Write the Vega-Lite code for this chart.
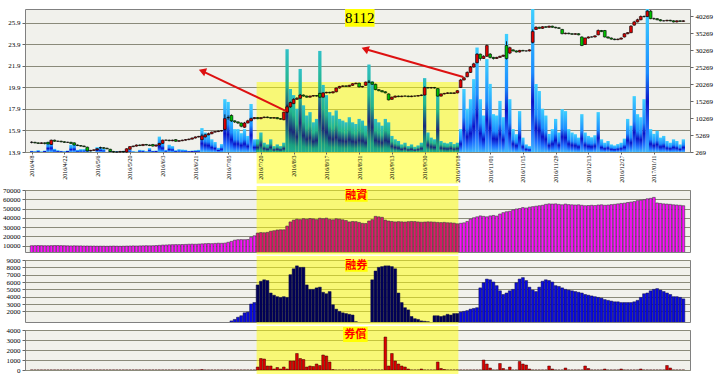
{
"$schema":"https://vega.github.io/schema/vega-lite/v6.json",
"background":"#ffffff",
"padding":{"left":2,"top":8,"right":2,"bottom":1},
"spacing":0,
"config":{
 "view":{"stroke":"#808080","fill":"#f1f1ec"},
 "axis":{"labelFont":"Liberation Serif","labelFontSize":7,"labelColor":"#000000","domainColor":"#666666","tickColor":"#666666","gridColor":"#8a8a7a","labelPadding":2,"tickSize":3,"labelOverlap":false}
},
"datasets":{
"arrows":[{"ax":77.7,"ay":17.71,"bx":52.1,"by":21.43},{"ax":131.8,"ay":20.88,"bx":101.8,"by":23.48}],
"d":[
{"i":0,"o":14.8,"c":14.8,"h":14.9,"l":14.7,"v":600,"m":9800,"s":0,"r":0},
{"i":1,"o":14.8,"c":14.75,"h":14.85,"l":14.7,"v":500,"m":9900,"s":0,"r":0},
{"i":2,"o":14.75,"c":14.7,"h":14.8,"l":14.65,"v":800,"m":10000,"s":0,"r":0},
{"i":3,"o":14.7,"c":14.75,"h":14.8,"l":14.65,"v":450,"m":9900,"s":0,"r":0},
{"i":4,"o":14.75,"c":14.7,"h":14.8,"l":14.6,"v":700,"m":9800,"s":0,"r":0},
{"i":5,"o":14.8,"c":14.65,"h":14.85,"l":14.6,"v":3200,"m":9800,"s":0,"r":0},
{"i":6,"o":14.6,"c":15.0,"h":15.05,"l":14.55,"v":3500,"m":9900,"s":0,"r":0},
{"i":7,"o":15.0,"c":14.9,"h":15.05,"l":14.85,"v":1200,"m":10000,"s":0,"r":0},
{"i":8,"o":14.9,"c":14.9,"h":14.95,"l":14.85,"v":800,"m":10000,"s":0,"r":0},
{"i":9,"o":14.9,"c":14.85,"h":14.95,"l":14.8,"v":600,"m":9900,"s":0,"r":0},
{"i":10,"o":14.85,"c":14.8,"h":14.9,"l":14.75,"v":500,"m":9800,"s":0,"r":0},
{"i":11,"o":14.8,"c":14.8,"h":14.85,"l":14.75,"v":700,"m":9700,"s":0,"r":0},
{"i":12,"o":14.8,"c":14.7,"h":14.85,"l":14.65,"v":2400,"m":9600,"s":0,"r":0},
{"i":13,"o":14.75,"c":14.55,"h":14.8,"l":14.5,"v":2600,"m":9700,"s":0,"r":0},
{"i":14,"o":14.55,"c":14.5,"h":14.6,"l":14.45,"v":900,"m":9600,"s":0,"r":0},
{"i":15,"o":14.5,"c":14.45,"h":14.55,"l":14.4,"v":1100,"m":9600,"s":0,"r":0},
{"i":16,"o":14.45,"c":14.4,"h":14.5,"l":14.35,"v":1100,"m":9500,"s":0,"r":0},
{"i":17,"o":14.35,"c":14.0,"h":14.4,"l":13.95,"v":1500,"m":9500,"s":0,"r":0},
{"i":18,"o":14.0,"c":14.05,"h":14.1,"l":13.95,"v":400,"m":9400,"s":0,"r":0},
{"i":19,"o":14.05,"c":14.1,"h":14.15,"l":14.0,"v":300,"m":9400,"s":0,"r":0},
{"i":20,"o":14.1,"c":14.2,"h":14.25,"l":14.05,"v":1700,"m":9300,"s":0,"r":0},
{"i":21,"o":14.3,"c":14.3,"h":14.4,"l":14.2,"v":1700,"m":9300,"s":0,"r":0},
{"i":22,"o":14.3,"c":14.25,"h":14.35,"l":14.2,"v":1200,"m":9300,"s":0,"r":0},
{"i":23,"o":14.25,"c":14.2,"h":14.3,"l":14.15,"v":300,"m":9200,"s":0,"r":0},
{"i":24,"o":14.15,"c":13.95,"h":14.2,"l":13.9,"v":600,"m":9300,"s":0,"r":0},
{"i":25,"o":13.95,"c":13.9,"h":14.0,"l":13.85,"v":300,"m":9400,"s":0,"r":0},
{"i":26,"o":13.9,"c":13.9,"h":13.95,"l":13.85,"v":500,"m":9300,"s":0,"r":0},
{"i":27,"o":13.9,"c":13.95,"h":14.0,"l":13.85,"v":400,"m":9200,"s":0,"r":0},
{"i":28,"o":13.95,"c":13.9,"h":14.0,"l":13.85,"v":600,"m":9300,"s":0,"r":0},
{"i":29,"o":13.9,"c":14.2,"h":14.25,"l":13.85,"v":1100,"m":9400,"s":0,"r":0},
{"i":30,"o":14.15,"c":14.4,"h":14.45,"l":14.1,"v":1000,"m":9500,"s":0,"r":0},
{"i":31,"o":14.4,"c":14.45,"h":14.5,"l":14.35,"v":500,"m":9600,"s":0,"r":0},
{"i":32,"o":14.45,"c":14.55,"h":14.6,"l":14.4,"v":400,"m":9500,"s":0,"r":0},
{"i":33,"o":14.55,"c":14.5,"h":14.6,"l":14.45,"v":900,"m":9600,"s":0,"r":0},
{"i":34,"o":14.5,"c":14.6,"h":14.65,"l":14.45,"v":800,"m":9700,"s":0,"r":0},
{"i":35,"o":14.6,"c":14.55,"h":14.65,"l":14.5,"v":500,"m":9800,"s":0,"r":0},
{"i":36,"o":14.55,"c":14.5,"h":14.6,"l":14.45,"v":1400,"m":9700,"s":0,"r":0},
{"i":37,"o":14.6,"c":14.45,"h":14.65,"l":14.4,"v":600,"m":9800,"s":0,"r":0},
{"i":38,"o":14.45,"c":14.55,"h":14.6,"l":14.4,"v":700,"m":10000,"s":0,"r":0},
{"i":39,"o":14.55,"c":14.7,"h":14.75,"l":14.5,"v":4800,"m":10200,"s":0,"r":0},
{"i":40,"o":14.7,"c":15.0,"h":15.05,"l":14.65,"v":3500,"m":10500,"s":0,"r":0},
{"i":41,"o":15.0,"c":15.0,"h":15.05,"l":14.95,"v":900,"m":10600,"s":0,"r":0},
{"i":42,"o":15.0,"c":14.95,"h":15.05,"l":14.9,"v":2400,"m":10800,"s":0,"r":0},
{"i":43,"o":14.95,"c":15.0,"h":15.05,"l":14.9,"v":2000,"m":10900,"s":0,"r":0},
{"i":44,"o":15.05,"c":14.9,"h":15.1,"l":14.85,"v":800,"m":11000,"s":0,"r":0},
{"i":45,"o":14.9,"c":14.95,"h":15.0,"l":14.85,"v":1100,"m":11000,"s":0,"r":0},
{"i":46,"o":14.95,"c":15.0,"h":15.05,"l":14.9,"v":1000,"m":11100,"s":0,"r":0},
{"i":47,"o":15.0,"c":15.05,"h":15.1,"l":14.95,"v":900,"m":11200,"s":0,"r":0},
{"i":48,"o":15.05,"c":15.1,"h":15.15,"l":15.0,"v":600,"m":11400,"s":0,"r":0},
{"i":49,"o":15.1,"c":15.2,"h":15.25,"l":15.05,"v":700,"m":11500,"s":0,"r":0},
{"i":50,"o":15.2,"c":15.3,"h":15.35,"l":15.15,"v":800,"m":11400,"s":0,"r":0},
{"i":51,"o":15.3,"c":15.35,"h":15.4,"l":15.25,"v":900,"m":11600,"s":0,"r":0},
{"i":52,"o":15.05,"c":15.4,"h":15.6,"l":15.0,"v":7300,"m":11800,"s":0,"r":50},
{"i":53,"o":15.3,"c":15.5,"h":15.6,"l":15.25,"v":6000,"m":12000,"s":0,"r":0},
{"i":54,"o":15.5,"c":15.6,"h":15.7,"l":15.45,"v":5600,"m":12200,"s":0,"r":0},
{"i":55,"o":15.6,"c":15.75,"h":15.8,"l":15.55,"v":4000,"m":12000,"s":0,"r":0},
{"i":56,"o":15.75,"c":15.8,"h":15.85,"l":15.7,"v":3200,"m":12300,"s":0,"r":0},
{"i":57,"o":15.8,"c":15.85,"h":15.9,"l":15.75,"v":1500,"m":12500,"s":0,"r":0},
{"i":58,"o":15.85,"c":15.9,"h":15.95,"l":15.8,"v":2600,"m":12400,"s":0,"r":0},
{"i":59,"o":16.0,"c":17.0,"h":17.4,"l":15.9,"v":15800,"m":12600,"s":0,"r":0},
{"i":60,"o":17.1,"c":17.1,"h":17.3,"l":16.9,"v":15000,"m":13500,"s":0,"r":0},
{"i":61,"o":17.3,"c":16.8,"h":17.4,"l":16.7,"v":10600,"m":14500,"s":700,"r":0},
{"i":62,"o":16.8,"c":16.7,"h":16.85,"l":16.6,"v":7000,"m":15800,"s":900,"r":0},
{"i":63,"o":16.7,"c":16.6,"h":16.75,"l":16.5,"v":7000,"m":16300,"s":1200,"r":0},
{"i":64,"o":16.6,"c":16.3,"h":16.65,"l":16.2,"v":5800,"m":16400,"s":1400,"r":0},
{"i":65,"o":16.2,"c":16.6,"h":16.7,"l":16.15,"v":7000,"m":16300,"s":1800,"r":0},
{"i":66,"o":16.6,"c":16.8,"h":16.9,"l":16.55,"v":5000,"m":16500,"s":1900,"r":0},
{"i":67,"o":16.8,"c":17.0,"h":17.1,"l":16.75,"v":14400,"m":19000,"s":3000,"r":0},
{"i":68,"o":17.0,"c":17.1,"h":17.15,"l":16.95,"v":4000,"m":20500,"s":3200,"r":0},
{"i":69,"o":17.1,"c":17.0,"h":17.15,"l":16.95,"v":4000,"m":23500,"s":5600,"r":300},
{"i":70,"o":17.0,"c":17.1,"h":17.15,"l":16.95,"v":6000,"m":24000,"s":6100,"r":1150},
{"i":71,"o":17.1,"c":17.15,"h":17.2,"l":17.05,"v":3000,"m":23800,"s":6300,"r":1100},
{"i":72,"o":17.15,"c":17.1,"h":17.2,"l":17.05,"v":2500,"m":24200,"s":6200,"r":400},
{"i":73,"o":17.1,"c":17.05,"h":17.15,"l":17.0,"v":4000,"m":25500,"s":4500,"r":400},
{"i":74,"o":17.05,"c":17.1,"h":17.15,"l":17.0,"v":2000,"m":26000,"s":4200,"r":100},
{"i":75,"o":17.1,"c":17.0,"h":17.15,"l":16.95,"v":2500,"m":26800,"s":4000,"r":250},
{"i":76,"o":17.0,"c":16.95,"h":17.05,"l":16.9,"v":2000,"m":27000,"s":3900,"r":100},
{"i":77,"o":16.9,"c":17.6,"h":17.65,"l":16.85,"v":3000,"m":27000,"s":4000,"r":300},
{"i":78,"o":17.6,"c":18.1,"h":18.3,"l":17.5,"v":30500,"m":31000,"s":3900,"r":100},
{"i":79,"o":18.1,"c":18.5,"h":18.6,"l":18.0,"v":18800,"m":35500,"s":7000,"r":900},
{"i":80,"o":18.4,"c":18.8,"h":18.9,"l":18.35,"v":17000,"m":37500,"s":7800,"r":900},
{"i":81,"o":18.8,"c":18.9,"h":19.0,"l":18.75,"v":13000,"m":38500,"s":8200,"r":1650},
{"i":82,"o":18.9,"c":19.2,"h":19.3,"l":18.85,"v":24700,"m":38000,"s":8000,"r":1150},
{"i":83,"o":19.2,"c":19.1,"h":19.25,"l":19.05,"v":14000,"m":39000,"s":8000,"r":1050},
{"i":84,"o":19.1,"c":19.0,"h":19.15,"l":18.95,"v":11000,"m":38500,"s":5600,"r":300},
{"i":85,"o":19.0,"c":19.1,"h":19.15,"l":18.95,"v":12000,"m":39200,"s":5000,"r":400},
{"i":86,"o":19.1,"c":19.15,"h":19.2,"l":19.05,"v":9000,"m":38800,"s":5000,"r":350},
{"i":87,"o":19.15,"c":19.1,"h":19.2,"l":19.05,"v":10000,"m":38000,"s":5200,"r":600},
{"i":88,"o":19.35,"c":19.0,"h":19.4,"l":18.95,"v":30000,"m":39500,"s":5300,"r":450},
{"i":89,"o":19.0,"c":19.4,"h":19.45,"l":18.95,"v":20000,"m":39000,"s":4600,"r":1500},
{"i":90,"o":19.4,"c":19.45,"h":19.5,"l":19.35,"v":17000,"m":39600,"s":4400,"r":1400},
{"i":91,"o":19.45,"c":19.4,"h":19.5,"l":19.35,"v":12000,"m":38200,"s":4700,"r":800},
{"i":92,"o":19.4,"c":19.5,"h":19.55,"l":19.35,"v":11000,"m":37800,"s":2900,"r":50},
{"i":93,"o":19.5,"c":19.85,"h":19.9,"l":19.45,"v":12500,"m":38900,"s":2300,"r":0},
{"i":94,"o":19.85,"c":20.0,"h":20.05,"l":19.8,"v":10000,"m":38500,"s":2000,"r":0},
{"i":95,"o":20.0,"c":20.05,"h":20.1,"l":19.95,"v":9500,"m":37800,"s":1800,"r":0},
{"i":96,"o":20.05,"c":20.0,"h":20.1,"l":19.95,"v":9000,"m":37000,"s":1700,"r":0},
{"i":97,"o":20.0,"c":20.1,"h":20.15,"l":19.95,"v":10500,"m":35500,"s":1600,"r":0},
{"i":98,"o":20.1,"c":20.25,"h":20.3,"l":20.05,"v":9000,"m":36000,"s":1500,"r":0},
{"i":99,"o":20.25,"c":20.3,"h":20.35,"l":20.2,"v":8500,"m":35800,"s":600,"r":0},
{"i":100,"o":20.3,"c":19.95,"h":20.35,"l":19.9,"v":10000,"m":35000,"s":0,"r":0},
{"i":101,"o":19.95,"c":20.0,"h":20.05,"l":19.9,"v":9500,"m":34000,"s":0,"r":0},
{"i":102,"o":20.1,"c":20.4,"h":20.45,"l":20.05,"v":8000,"m":33800,"s":0,"r":0},
{"i":103,"o":20.4,"c":20.4,"h":20.6,"l":20.3,"v":26000,"m":36500,"s":0,"r":0},
{"i":104,"o":20.4,"c":20.2,"h":20.45,"l":20.15,"v":21000,"m":38000,"s":6300,"r":0},
{"i":105,"o":20.2,"c":19.7,"h":20.25,"l":19.65,"v":10000,"m":41500,"s":7500,"r":0},
{"i":106,"o":19.7,"c":19.6,"h":19.75,"l":19.55,"v":9000,"m":41000,"s":8000,"r":0},
{"i":107,"o":19.6,"c":19.5,"h":19.65,"l":19.45,"v":8000,"m":40500,"s":8100,"r":0},
{"i":108,"o":19.5,"c":19.4,"h":19.55,"l":19.35,"v":10000,"m":37500,"s":8200,"r":3300},
{"i":109,"o":19.3,"c":18.75,"h":19.35,"l":18.7,"v":9000,"m":36500,"s":8200,"r":400},
{"i":110,"o":18.8,"c":19.0,"h":19.05,"l":18.75,"v":5000,"m":36000,"s":8100,"r":1650},
{"i":111,"o":19.0,"c":19.1,"h":19.15,"l":18.95,"v":4000,"m":35500,"s":7800,"r":900},
{"i":112,"o":19.1,"c":19.05,"h":19.15,"l":19.0,"v":3500,"m":35800,"s":4500,"r":600},
{"i":113,"o":19.05,"c":19.1,"h":19.15,"l":19.0,"v":2500,"m":35600,"s":3200,"r":400},
{"i":114,"o":19.1,"c":19.1,"h":19.15,"l":19.05,"v":3000,"m":35400,"s":2500,"r":300},
{"i":115,"o":19.1,"c":19.05,"h":19.15,"l":19.0,"v":2000,"m":35800,"s":2200,"r":100},
{"i":116,"o":19.05,"c":19.1,"h":19.15,"l":19.0,"v":2500,"m":36000,"s":1300,"r":0},
{"i":117,"o":19.1,"c":19.1,"h":19.15,"l":19.05,"v":1800,"m":35900,"s":1000,"r":0},
{"i":118,"o":19.1,"c":19.15,"h":19.2,"l":19.05,"v":2200,"m":35500,"s":900,"r":0},
{"i":119,"o":19.15,"c":19.2,"h":19.25,"l":19.1,"v":3000,"m":35200,"s":700,"r":100},
{"i":120,"o":19.2,"c":19.9,"h":20.0,"l":19.15,"v":22000,"m":35400,"s":650,"r":0},
{"i":121,"o":19.9,"c":19.85,"h":19.95,"l":19.8,"v":6000,"m":35600,"s":600,"r":0},
{"i":122,"o":19.85,"c":19.9,"h":19.95,"l":19.8,"v":4500,"m":35500,"s":0,"r":0},
{"i":123,"o":19.9,"c":19.85,"h":19.95,"l":19.8,"v":4000,"m":35300,"s":1400,"r":0},
{"i":124,"o":19.8,"c":19.1,"h":19.85,"l":19.05,"v":18800,"m":35000,"s":1400,"r":800},
{"i":125,"o":19.1,"c":19.3,"h":19.35,"l":19.05,"v":3500,"m":34800,"s":1300,"r":150},
{"i":126,"o":19.3,"c":19.35,"h":19.4,"l":19.25,"v":3000,"m":35000,"s":1400,"r":50},
{"i":127,"o":19.35,"c":19.4,"h":19.45,"l":19.3,"v":2800,"m":34600,"s":1600,"r":0},
{"i":128,"o":19.4,"c":19.35,"h":19.45,"l":19.3,"v":3200,"m":34500,"s":1500,"r":0},
{"i":129,"o":19.35,"c":19.4,"h":19.45,"l":19.3,"v":2600,"m":34200,"s":1700,"r":0},
{"i":130,"o":19.4,"c":19.6,"h":19.65,"l":19.35,"v":3000,"m":33500,"s":1700,"r":0},
{"i":131,"o":19.9,"c":20.6,"h":20.7,"l":19.85,"v":7000,"m":34000,"s":1900,"r":0},
{"i":132,"o":20.6,"c":20.8,"h":20.9,"l":20.55,"v":18800,"m":34500,"s":2000,"r":0},
{"i":133,"o":20.9,"c":21.3,"h":21.4,"l":20.85,"v":13000,"m":36000,"s":2100,"r":0},
{"i":134,"o":21.3,"c":21.8,"h":21.9,"l":21.25,"v":15800,"m":38500,"s":2300,"r":0},
{"i":135,"o":21.8,"c":22.1,"h":22.2,"l":21.75,"v":21700,"m":40000,"s":2400,"r":0},
{"i":136,"o":22.2,"c":23.0,"h":23.1,"l":22.15,"v":31000,"m":41000,"s":2500,"r":0},
{"i":137,"o":23.0,"c":22.6,"h":23.05,"l":22.4,"v":15800,"m":42000,"s":5200,"r":0},
{"i":138,"o":22.6,"c":22.8,"h":22.9,"l":22.55,"v":11000,"m":41500,"s":5900,"r":1000},
{"i":139,"o":22.8,"c":23.8,"h":23.9,"l":22.75,"v":27600,"m":41000,"s":6400,"r":600},
{"i":140,"o":23.0,"c":22.7,"h":23.1,"l":22.6,"v":20300,"m":42000,"s":6300,"r":200},
{"i":141,"o":22.7,"c":22.6,"h":22.75,"l":22.5,"v":11400,"m":42500,"s":6000,"r":0},
{"i":142,"o":22.6,"c":22.7,"h":22.75,"l":22.55,"v":11000,"m":41800,"s":5500,"r":0},
{"i":143,"o":22.7,"c":22.8,"h":22.85,"l":22.65,"v":15300,"m":44000,"s":4800,"r":650},
{"i":144,"o":22.8,"c":22.9,"h":22.95,"l":22.75,"v":10500,"m":45500,"s":4300,"r":150},
{"i":145,"o":23.8,"c":22.6,"h":24.2,"l":22.5,"v":35000,"m":46500,"s":4500,"r":0},
{"i":146,"o":23.1,"c":23.6,"h":23.7,"l":23.0,"v":15800,"m":47000,"s":4800,"r":300},
{"i":147,"o":23.4,"c":23.3,"h":23.45,"l":23.25,"v":7000,"m":48500,"s":5000,"r":0},
{"i":148,"o":23.3,"c":23.2,"h":23.35,"l":23.15,"v":5500,"m":49500,"s":5900,"r":0},
{"i":149,"o":23.2,"c":23.35,"h":23.4,"l":23.15,"v":12300,"m":50000,"s":6400,"r":850},
{"i":150,"o":23.35,"c":23.3,"h":23.4,"l":23.25,"v":4500,"m":51000,"s":6600,"r":600},
{"i":151,"o":23.3,"c":23.3,"h":23.35,"l":23.25,"v":2500,"m":50500,"s":6200,"r":500},
{"i":152,"o":23.3,"c":23.4,"h":23.45,"l":23.25,"v":2000,"m":51500,"s":5300,"r":100},
{"i":153,"o":24.1,"c":25.1,"h":25.3,"l":24.0,"v":42500,"m":52000,"s":4900,"r":0},
{"i":154,"o":25.3,"c":25.5,"h":25.6,"l":25.25,"v":20300,"m":52500,"s":4700,"r":0},
{"i":155,"o":25.5,"c":25.4,"h":25.55,"l":25.35,"v":18200,"m":53000,"s":5300,"r":0},
{"i":156,"o":25.4,"c":25.55,"h":25.6,"l":25.35,"v":13000,"m":53500,"s":6100,"r":0},
{"i":157,"o":25.55,"c":25.5,"h":25.6,"l":25.45,"v":11000,"m":54500,"s":6300,"r":0},
{"i":158,"o":25.5,"c":25.6,"h":25.65,"l":25.45,"v":5600,"m":55000,"s":6200,"r":400},
{"i":159,"o":25.6,"c":25.5,"h":25.65,"l":25.45,"v":7000,"m":54800,"s":6000,"r":100},
{"i":160,"o":25.5,"c":25.45,"h":25.55,"l":25.4,"v":10000,"m":55000,"s":5500,"r":0},
{"i":161,"o":25.45,"c":25.4,"h":25.5,"l":25.35,"v":6000,"m":54500,"s":5400,"r":0},
{"i":162,"o":25.3,"c":24.9,"h":25.35,"l":24.85,"v":12900,"m":54000,"s":5200,"r":0},
{"i":163,"o":24.9,"c":24.95,"h":25.0,"l":24.85,"v":12300,"m":54800,"s":5000,"r":200},
{"i":164,"o":24.95,"c":24.9,"h":25.0,"l":24.85,"v":7000,"m":54200,"s":4900,"r":0},
{"i":165,"o":24.9,"c":24.85,"h":24.95,"l":24.8,"v":6000,"m":54000,"s":4800,"r":0},
{"i":166,"o":24.85,"c":24.9,"h":24.95,"l":24.8,"v":5500,"m":53800,"s":4700,"r":0},
{"i":167,"o":24.9,"c":24.8,"h":24.95,"l":24.75,"v":4500,"m":54000,"s":4600,"r":0},
{"i":168,"o":24.6,"c":23.8,"h":24.65,"l":23.75,"v":11400,"m":53500,"s":4500,"r":0},
{"i":169,"o":23.9,"c":24.5,"h":24.55,"l":23.85,"v":6000,"m":53000,"s":4300,"r":400},
{"i":170,"o":24.5,"c":24.6,"h":24.65,"l":24.45,"v":5000,"m":53200,"s":4200,"r":150},
{"i":171,"o":24.6,"c":24.6,"h":24.65,"l":24.55,"v":4600,"m":53500,"s":4100,"r":0},
{"i":172,"o":24.6,"c":24.7,"h":24.75,"l":24.55,"v":5200,"m":53200,"s":4000,"r":0},
{"i":173,"o":24.8,"c":25.2,"h":25.3,"l":24.75,"v":12000,"m":53800,"s":3900,"r":0},
{"i":174,"o":25.2,"c":25.1,"h":25.25,"l":25.05,"v":4000,"m":54000,"s":3800,"r":0},
{"i":175,"o":25.2,"c":24.6,"h":25.25,"l":24.55,"v":3000,"m":53500,"s":3600,"r":100},
{"i":176,"o":24.6,"c":24.5,"h":24.65,"l":24.45,"v":3500,"m":53800,"s":3500,"r":0},
{"i":177,"o":24.5,"c":24.4,"h":24.55,"l":24.35,"v":2500,"m":54200,"s":3400,"r":0},
{"i":178,"o":24.4,"c":24.35,"h":24.45,"l":24.3,"v":2200,"m":54500,"s":3300,"r":0},
{"i":179,"o":24.35,"c":24.4,"h":24.45,"l":24.3,"v":2600,"m":55000,"s":3300,"r":0},
{"i":180,"o":24.4,"c":24.5,"h":24.55,"l":24.35,"v":3000,"m":55500,"s":3200,"r":100},
{"i":181,"o":24.6,"c":24.9,"h":24.95,"l":24.55,"v":4200,"m":55800,"s":3200,"r":0},
{"i":182,"o":24.9,"c":25.0,"h":25.05,"l":24.85,"v":10000,"m":56500,"s":3200,"r":0},
{"i":183,"o":25.0,"c":25.6,"h":25.7,"l":24.95,"v":8000,"m":57000,"s":3200,"r":0},
{"i":184,"o":25.7,"c":26.0,"h":26.1,"l":25.65,"v":16700,"m":57500,"s":3300,"r":0},
{"i":185,"o":26.0,"c":26.2,"h":26.3,"l":25.95,"v":11400,"m":58500,"s":3500,"r":0},
{"i":186,"o":26.2,"c":26.5,"h":26.6,"l":26.15,"v":10500,"m":59000,"s":3900,"r":100},
{"i":187,"o":26.5,"c":26.5,"h":26.6,"l":26.4,"v":15800,"m":59500,"s":4400,"r":0},
{"i":188,"o":26.5,"c":27.0,"h":27.1,"l":26.45,"v":42500,"m":60500,"s":4500,"r":0},
{"i":189,"o":27.0,"c":26.3,"h":27.1,"l":26.25,"v":7000,"m":61000,"s":4800,"r":0},
{"i":190,"o":26.3,"c":26.3,"h":26.4,"l":26.2,"v":5600,"m":62000,"s":5000,"r":0},
{"i":191,"o":26.3,"c":26.2,"h":26.35,"l":26.15,"v":6500,"m":56000,"s":5100,"r":0},
{"i":192,"o":26.2,"c":26.1,"h":26.25,"l":26.05,"v":4500,"m":55500,"s":4900,"r":0},
{"i":193,"o":26.1,"c":26.1,"h":26.15,"l":26.05,"v":5000,"m":55000,"s":4700,"r":0},
{"i":194,"o":26.1,"c":26.15,"h":26.2,"l":26.05,"v":3500,"m":54800,"s":4500,"r":450},
{"i":195,"o":26.15,"c":26.1,"h":26.2,"l":26.05,"v":3000,"m":54500,"s":4300,"r":200},
{"i":196,"o":26.1,"c":26.0,"h":26.15,"l":25.95,"v":4000,"m":54000,"s":4000,"r":0},
{"i":197,"o":26.0,"c":26.1,"h":26.15,"l":25.95,"v":3500,"m":53800,"s":4000,"r":0},
{"i":198,"o":26.1,"c":26.05,"h":26.15,"l":26.0,"v":2500,"m":53500,"s":3900,"r":0},
{"i":199,"o":26.05,"c":26.1,"h":26.15,"l":26.0,"v":4000,"m":53000,"s":3700,"r":0}
]},
"vconcat":[
{
 "width":665,"height":143,
 "layer":[
  {"data":{"values":[{}]},
   "mark":{"type":"rect","fill":"#ffff00","opacity":0.5,"clip":false},
   "encoding":{
    "x":{"datum":68.7,"type":"quantitative","title":null,"scale":{"domain":[-0.5,199.5],"nice":false,"zero":false},
      "axis":{"values":[0,10,20,30,40,50,60,70,80,90,100,110,120,130,140,150,160,170,180,190],"tickCount":500,
        "labelExpr":"['2016/4/8','2016/4/22','2016/5/6','2016/5/20','2016/6/3','2016/6/21','2016/7/05','2016/7/20','2016/8/3','2016/8/17','2016/8/31','2016/9/13','2016/9/30','2016/10/18','2016/11/01','2016/11/15','2016/11/29','2016/12/13','2016/12/27','2017/01/11'][round(datum.value/10)]",
        "labelAngle":270,"labelFontSize":6,"labelPadding":1,"tickSize":2,"labelOverlap":false,"grid":false,"zindex":1,"domain":false,"title":null}},
    "x2":{"datum":130.3},
    "y":{"datum":20.4,"type":"quantitative","title":null,"scale":{"domain":[13.9,27.2],"nice":false,"zero":false},"axis":null},
    "y2":{"datum":10.97}
   }},
  {"layer":[
    {"data":{"name":"d"},"transform":[{"filter":"datum.i < 69 || datum.i > 130"}],
     "mark":{"type":"bar","width":3.3,"clip":true,
       "color":{"gradient":"linear","x1":0,"y1":0,"x2":0,"y2":1,"stops":[{"offset":0,"color":"#3fd0ff"},{"offset":0.45,"color":"#1a8cff"},{"offset":0.65,"color":"#0a12c8"},{"offset":0.85,"color":"#1f70ff"},{"offset":1,"color":"#40b8ff"}]}},
     "encoding":{
      "x":{"field":"i","type":"quantitative","title":null,"scale":{"domain":[-0.5,199.5],"nice":false,"zero":false}},
      "y":{"field":"v","type":"quantitative","title":null,"scale":{"domain":[269,42330],"nice":false,"zero":false},
        "axis":{"orient":"right","values":[269,5269,10269,15269,20269,25269,30269,35269,40269],"tickCount":500,"format":"d","labelOverlap":false,"grid":false,"domain":false,"title":null}},
      "y2":{"datum":269}
     }},
    {"data":{"name":"d"},"transform":[{"filter":"datum.i >= 69 && datum.i <= 130"}],
     "mark":{"type":"bar","width":3.3,"clip":true,
       "color":{"gradient":"linear","x1":0,"y1":0,"x2":0,"y2":1,"stops":[{"offset":0,"color":"#30c0c8"},{"offset":0.35,"color":"#22b58a"},{"offset":0.65,"color":"#1b2a7a"},{"offset":0.88,"color":"#1aa080"},{"offset":1,"color":"#20b090"}]}},
     "encoding":{
      "x":{"field":"i","type":"quantitative","title":null,"scale":{"domain":[-0.5,199.5],"nice":false,"zero":false}},
      "y":{"field":"v","type":"quantitative","title":null,"scale":{"domain":[269,42330],"nice":false,"zero":false}},
      "y2":{"datum":269}
     }}
  ]},
  {"layer":[
    {"data":{"name":"d"},
     "mark":{"type":"rule","color":"#000000","strokeWidth":0.8},
     "encoding":{
      "x":{"field":"i","type":"quantitative","title":null,"scale":{"domain":[-0.5,199.5],"nice":false,"zero":false}},
      "y":{"field":"l","type":"quantitative","title":null,"scale":{"domain":[13.9,27.2],"nice":false,"zero":false},
        "axis":{"orient":"left","values":[13.9,15.9,17.9,19.9,21.9,23.9,25.9],"tickCount":500,"format":".1f","labelOverlap":false,"grid":true,"domain":false,"title":null}},
      "y2":{"field":"h"}
     }},
    {"data":{"name":"d"},
     "mark":{"type":"bar","width":2.8,"stroke":"#000000","strokeWidth":0.6},
     "encoding":{
      "x":{"field":"i","type":"quantitative","title":null,"scale":{"domain":[-0.5,199.5],"nice":false,"zero":false}},
      "y":{"field":"o","type":"quantitative","title":null,"scale":{"domain":[13.9,27.2],"nice":false,"zero":false}},
      "y2":{"field":"c"},
      "color":{"condition":[{"test":"datum.c > datum.o","value":"#e00000"},{"test":"datum.c < datum.o","value":"#00c000"}],"value":"#000000"}
     }},
    {"data":{"name":"arrows"},
     "mark":{"type":"rule","color":"#dd1111","strokeWidth":2},
     "encoding":{
      "x":{"field":"ax","type":"quantitative","title":null,"scale":{"domain":[-0.5,199.5],"nice":false,"zero":false}},
      "x2":{"field":"bx"},
      "y":{"field":"ay","type":"quantitative","title":null,"scale":{"domain":[13.9,27.2],"nice":false,"zero":false}},
      "y2":{"field":"by"}
     }},
    {"data":{"name":"arrows"},
     "mark":{"type":"point","shape":"triangle-up","filled":true,"size":70,"angle":290,"color":"#dd1111","opacity":1},
     "encoding":{
      "x":{"field":"bx","type":"quantitative","title":null,"scale":{"domain":[-0.5,199.5],"nice":false,"zero":false}},
      "y":{"field":"by","type":"quantitative","title":null,"scale":{"domain":[13.9,27.2],"nice":false,"zero":false}}
     }},
    {"data":{"values":[{}]},
     "mark":{"type":"rect","fill":"#ffff00"},
     "encoding":{
      "x":{"datum":95.7,"type":"quantitative","title":null,"scale":{"domain":[-0.5,199.5],"nice":false,"zero":false}},
      "x2":{"datum":104.7},
      "y":{"datum":25.55,"type":"quantitative","title":null,"scale":{"domain":[13.9,27.2],"nice":false,"zero":false}},
      "y2":{"datum":27.2}
     }},
    {"data":{"values":[{}]},
     "mark":{"type":"text","text":"8112","font":"Liberation Serif","fontSize":15,"color":"#000000","align":"center","baseline":"middle"},
     "encoding":{
      "x":{"datum":100.2,"type":"quantitative","title":null,"scale":{"domain":[-0.5,199.5],"nice":false,"zero":false}},
      "y":{"datum":26.37,"type":"quantitative","title":null,"scale":{"domain":[13.9,27.2],"nice":false,"zero":false}}
     }}
  ]}
 ],
 "resolve":{"scale":{"y":"independent"}}
},
{
 "width":665,"height":62,
 "layer":[
  {"data":{"values":[{}]},
   "mark":{"type":"rect","fill":"#ffff00","opacity":0.5,"clip":false},
   "encoding":{
    "x":{"datum":68.7,"type":"quantitative","title":null,"scale":{"domain":[-0.5,199.5],"nice":false,"zero":false},"axis":null},
    "x2":{"datum":130.3},
    "y":{"datum":74300,"type":"quantitative","title":null,"scale":{"domain":[3000,70000],"nice":false,"zero":false},
      "axis":{"values":[10000,20000,30000,40000,50000,60000,70000],"tickCount":500,"format":"d","labelOverlap":false,"grid":true,"domain":false,"title":null}},
    "y2":{"datum":300}
   }},
  {"data":{"name":"d"},
   "mark":{"type":"bar","width":2.7,"stroke":"#3a3a3a","strokeWidth":0.6,"clip":true},
   "encoding":{
    "x":{"field":"i","type":"quantitative","title":null,"scale":{"domain":[-0.5,199.5],"nice":false,"zero":false}},
    "y":{"field":"m","type":"quantitative","title":null,"scale":{"domain":[3000,70000],"nice":false,"zero":false}},
    "y2":{"datum":0},
    "color":{"condition":{"test":"datum.i >= 69 && datum.i <= 130","value":"#e0186e"},"value":"#ff10ff"}
   }},
  {"data":{"values":[{}]},
   "mark":{"type":"rect","fill":"#ffff00"},
   "encoding":{
    "x":{"datum":95.7,"type":"quantitative","title":null,"scale":{"domain":[-0.5,199.5],"nice":false,"zero":false}},
    "x2":{"datum":102.6},
    "y":{"datum":70000,"type":"quantitative","title":null,"scale":{"domain":[3000,70000],"nice":false,"zero":false}},
    "y2":{"datum":57300}
   }},
  {"data":{"values":[{}]},
   "mark":{"type":"text","text":"融資","font":"Noto Sans CJK TC","fontSize":11,"fontWeight":"bold","color":"#ff0000","align":"center","baseline":"middle"},
   "encoding":{
    "x":{"datum":99.15,"type":"quantitative","title":null,"scale":{"domain":[-0.5,199.5],"nice":false,"zero":false}},
    "y":{"datum":63650,"type":"quantitative","title":null,"scale":{"domain":[3000,70000],"nice":false,"zero":false}}
   }}
 ]
},
{
 "width":665,"height":62,
 "layer":[
  {"data":{"values":[{}]},
   "mark":{"type":"rect","fill":"#ffff00","opacity":0.5,"clip":false},
   "encoding":{
    "x":{"datum":68.7,"type":"quantitative","title":null,"scale":{"domain":[-0.5,199.5],"nice":false,"zero":false},"axis":null},
    "x2":{"datum":130.3},
    "y":{"datum":9545,"type":"quantitative","title":null,"scale":{"domain":[550,9000],"nice":false,"zero":false},
      "axis":{"values":[2000,3000,4000,5000,6000,7000,8000,9000],"tickCount":500,"format":"d","labelOverlap":false,"grid":true,"domain":false,"title":null}},
    "y2":{"datum":210}
   }},
  {"data":{"name":"d"},
   "mark":{"type":"bar","width":2.9,"stroke":"#101040","strokeWidth":0.5,"clip":true},
   "encoding":{
    "x":{"field":"i","type":"quantitative","title":null,"scale":{"domain":[-0.5,199.5],"nice":false,"zero":false}},
    "y":{"field":"s","type":"quantitative","title":null,"scale":{"domain":[550,9000],"nice":false,"zero":false}},
    "y2":{"datum":0},
    "color":{"condition":{"test":"datum.i >= 69 && datum.i <= 130","value":"#000058"},"value":"#0a0ae0"}
   }},
  {"data":{"values":[{}]},
   "mark":{"type":"rect","fill":"#ffff00"},
   "encoding":{
    "x":{"datum":95.7,"type":"quantitative","title":null,"scale":{"domain":[-0.5,199.5],"nice":false,"zero":false}},
    "x2":{"datum":102.6},
    "y":{"datum":9000,"type":"quantitative","title":null,"scale":{"domain":[550,9000],"nice":false,"zero":false}},
    "y2":{"datum":7400}
   }},
  {"data":{"values":[{}]},
   "mark":{"type":"text","text":"融券","font":"Noto Sans CJK TC","fontSize":11,"fontWeight":"bold","color":"#ff0000","align":"center","baseline":"middle"},
   "encoding":{
    "x":{"datum":99.15,"type":"quantitative","title":null,"scale":{"domain":[-0.5,199.5],"nice":false,"zero":false}},
    "y":{"datum":8200,"type":"quantitative","title":null,"scale":{"domain":[550,9000],"nice":false,"zero":false}}
   }}
 ]
},
{
 "width":665,"height":40,
 "layer":[
  {"data":{"values":[{}]},
   "mark":{"type":"rect","fill":"#ffff00","opacity":0.5,"clip":false},
   "encoding":{
    "x":{"datum":68.7,"type":"quantitative","title":null,"scale":{"domain":[-0.5,199.5],"nice":false,"zero":false},"axis":null},
    "x2":{"datum":130.3},
    "y":{"datum":4400,"type":"quantitative","title":null,"scale":{"domain":[0,4000],"nice":false,"zero":false},
      "axis":{"values":[0,1000,2000,3000,4000],"tickCount":500,"format":"d","labelOverlap":false,"grid":true,"domain":false,"title":null}},
    "y2":{"datum":-400}
   }},
  {"data":{"name":"d"},
   "mark":{"type":"bar","width":2.7,"stroke":"#400000","strokeWidth":0.5,"clip":true,"color":"#dd0000"},
   "encoding":{
    "x":{"field":"i","type":"quantitative","title":null,"scale":{"domain":[-0.5,199.5],"nice":false,"zero":false}},
    "y":{"field":"r","type":"quantitative","title":null,"scale":{"domain":[0,4000],"nice":false,"zero":false}},
    "y2":{"datum":0}
   }},
  {"data":{"values":[{}]},
   "mark":{"type":"rect","fill":"#ffff00","clip":false},
   "encoding":{
    "x":{"datum":95.1,"type":"quantitative","title":null,"scale":{"domain":[-0.5,199.5],"nice":false,"zero":false}},
    "x2":{"datum":102.6},
    "y":{"datum":4300,"type":"quantitative","title":null,"scale":{"domain":[0,4000],"nice":false,"zero":false}},
    "y2":{"datum":2800}
   }},
  {"data":{"values":[{}]},
   "mark":{"type":"text","text":"券償","font":"Noto Sans CJK TC","fontSize":11,"fontWeight":"bold","color":"#ff0000","align":"center","baseline":"middle","clip":false},
   "encoding":{
    "x":{"datum":98.85,"type":"quantitative","title":null,"scale":{"domain":[-0.5,199.5],"nice":false,"zero":false}},
    "y":{"datum":3550,"type":"quantitative","title":null,"scale":{"domain":[0,4000],"nice":false,"zero":false}}
   }}
 ]
}
]
}
